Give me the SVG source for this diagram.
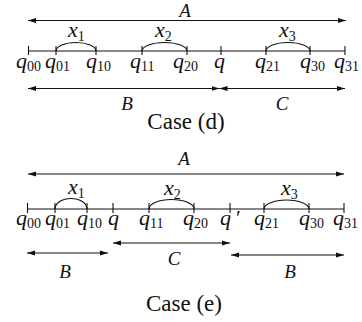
<svg xmlns="http://www.w3.org/2000/svg" width="362" height="322" viewBox="0 0 362 322">
<style>
.ln{stroke:#111;stroke-width:1.1;fill:none}
.ar{stroke:#111;stroke-width:1.1;fill:none;marker-start:url(#ah);marker-end:url(#ah)}
.m{font-family:"Liberation Serif",serif;font-style:italic;font-size:22px;fill:#111}
.s{font-family:"Liberation Serif",serif;font-style:normal;font-size:14px;fill:#111}
.L{font-family:"Liberation Serif",serif;font-style:italic;font-size:19px;fill:#111;text-anchor:middle}
.c{font-family:"Liberation Serif",serif;font-size:23px;fill:#111;text-anchor:middle}
</style>
<defs>
<marker id="ah" viewBox="0 0 8 6" refX="8" refY="3" markerWidth="8" markerHeight="6" markerUnits="userSpaceOnUse" orient="auto-start-reverse">
<path d="M0,0.6 L8,3 L0,5.4 z" fill="#111"/>
</marker>
</defs>

<g id="caseD">
<g id="connectorsD">
<line class="ar" x1="28" y1="20.5" x2="346" y2="20.5"/>
<line class="ln" x1="28.5" y1="51" x2="345" y2="51"/>
<g class="ln">
<line x1="28.5" y1="46" x2="28.5" y2="55"/>
<line x1="56" y1="46" x2="56" y2="55"/>
<line x1="96" y1="46" x2="96" y2="55"/>
<line x1="142" y1="46" x2="142" y2="55"/>
<line x1="187" y1="46" x2="187" y2="55"/>
<line x1="221" y1="46" x2="221" y2="55"/>
<line x1="266" y1="46" x2="266" y2="55"/>
<line x1="310" y1="46" x2="310" y2="55"/>
<line x1="345" y1="46" x2="345" y2="55"/>
</g>
<path class="ln" d="M56 51 A20 8.5 0 0 1 96 51"/>
<path class="ln" d="M142 51 A22.5 8.5 0 0 1 187 51"/>
<path class="ln" d="M266 51 A22 8.5 0 0 1 310 51"/>
<line class="ar" x1="28" y1="88.5" x2="219.5" y2="88.5"/>
<line class="ar" x1="219.5" y1="88.5" x2="345" y2="88.5"/>
</g>
<g id="labelsD">
<text class="L" x="185" y="16.5">A</text>
<text class="m" x="68" y="37">x<tspan class="s" dy="4">1</tspan></text>
<text class="m" x="155" y="37">x<tspan class="s" dy="4">2</tspan></text>
<text class="m" x="279" y="37">x<tspan class="s" dy="4">3</tspan></text>
<text class="m" x="16" y="68">q<tspan class="s" dy="3">00</tspan></text>
<text class="m" x="45" y="68">q<tspan class="s" dy="3">01</tspan></text>
<text class="m" x="86" y="68">q<tspan class="s" dy="3">10</tspan></text>
<text class="m" x="130" y="68">q<tspan class="s" dy="3">11</tspan></text>
<text class="m" x="173" y="68">q<tspan class="s" dy="3">20</tspan></text>
<text class="m" x="214" y="68">q</text>
<text class="m" x="255" y="68">q<tspan class="s" dy="3">21</tspan></text>
<text class="m" x="300" y="68">q<tspan class="s" dy="3">30</tspan></text>
<text class="m" x="334" y="68">q<tspan class="s" dy="3">31</tspan></text>
<text class="L" x="127" y="110">B</text>
<text class="L" x="282" y="110">C</text>
<text class="c" x="186" y="129">Case (d)</text>
</g>
</g>

<g id="caseE">
<g id="connectorsE">
<line class="ar" x1="28" y1="174" x2="344" y2="174"/>
<line class="ln" x1="27.5" y1="209" x2="344" y2="209"/>
<g class="ln">
<line x1="27.5" y1="203" x2="27.5" y2="213"/>
<line x1="55" y1="203" x2="55" y2="213"/>
<line x1="87" y1="203" x2="87" y2="213"/>
<line x1="113" y1="203" x2="113" y2="213"/>
<line x1="149" y1="203" x2="149" y2="213"/>
<line x1="194" y1="203" x2="194" y2="213"/>
<line x1="230" y1="203" x2="230" y2="213"/>
<line x1="264" y1="203" x2="264" y2="213"/>
<line x1="309" y1="203" x2="309" y2="213"/>
<line x1="344" y1="203" x2="344" y2="213"/>
</g>
<path class="ln" d="M55 209 A16 10.5 0 0 1 87 209"/>
<path class="ln" d="M149 209 A22.5 9.5 0 0 1 194 209"/>
<path class="ln" d="M264 209 A22.5 9 0 0 1 309 209"/>
<line class="ar" x1="27" y1="253" x2="108" y2="253"/>
<line class="ar" x1="113" y1="243" x2="230" y2="243"/>
<line class="ar" x1="231" y1="255" x2="344" y2="255"/>
</g>
<g id="labelsE">
<text class="L" x="184" y="165">A</text>
<text class="m" x="68" y="194">x<tspan class="s" dy="4">1</tspan></text>
<text class="m" x="164" y="195">x<tspan class="s" dy="4">2</tspan></text>
<text class="m" x="281" y="195">x<tspan class="s" dy="4">3</tspan></text>
<text class="m" x="16" y="225">q<tspan class="s" dy="3">00</tspan></text>
<text class="m" x="45" y="225">q<tspan class="s" dy="3">01</tspan></text>
<text class="m" x="77" y="225">q<tspan class="s" dy="3">10</tspan></text>
<text class="m" x="108" y="225">q</text>
<text class="m" x="139" y="225">q<tspan class="s" dy="3">11</tspan></text>
<text class="m" x="183" y="225">q<tspan class="s" dy="3">20</tspan></text>
<text class="m" x="220" y="225">q<tspan font-style="normal" dx="5">′</tspan></text>
<text class="m" x="254" y="225">q<tspan class="s" dy="3">21</tspan></text>
<text class="m" x="299" y="225">q<tspan class="s" dy="3">30</tspan></text>
<text class="m" x="333" y="225">q<tspan class="s" dy="3">31</tspan></text>
<text class="L" x="65" y="278">B</text>
<text class="L" x="174" y="265">C</text>
<text class="L" x="290" y="278">B</text>
<text class="c" x="184" y="311">Case (e)</text>
</g>
</g>
</svg>
